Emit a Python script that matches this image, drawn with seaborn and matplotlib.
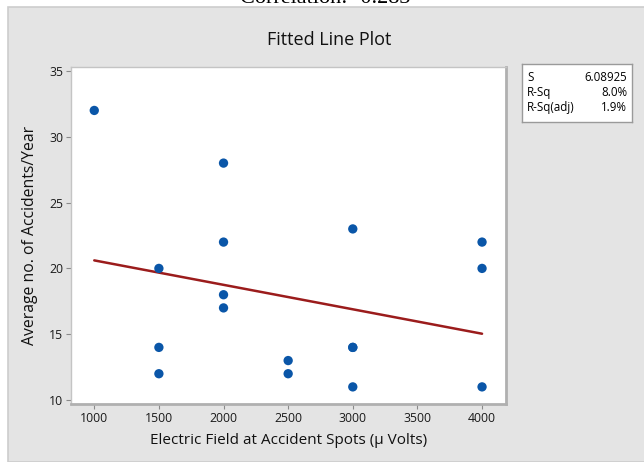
import numpy as np
import pandas as pd
import matplotlib
matplotlib.use("Agg")
import matplotlib.pyplot as plt
import seaborn as sns
from matplotlib.patches import Rectangle

# data
electric_field = [1000, 1500, 1500, 1500, 2000, 2000, 2000, 2000,
                  2500, 2500, 3000, 3000, 3000, 3000, 4000, 4000, 4000]
accidents = [32, 20, 14, 12, 28, 22, 18, 17,
             13, 12, 23, 14, 14, 11, 22, 20, 11]
stat_names = ["S", "R-Sq", "R-Sq(adj)"]
stat_values = ["6.08925", "8.0%", "1.9%"]
x_ticks = [1000, 1500, 2000, 2500, 3000, 3500, 4000]
y_ticks = [10, 15, 20, 25, 30, 35]

df = pd.DataFrame({"field": electric_field, "acc": accidents})

sns.set_theme(style="white")
plt.rcParams["font.family"] = ["Open Sans", "DejaVu Sans"]

fig = plt.figure(figsize=(6.44, 4.62), dpi=100, facecolor="white")

# grey minitab-like panel
fig.patches.append(Rectangle((8 / 644, 0), 1, 1 - 7 / 462, transform=fig.transFigure,
                             facecolor="#e4e4e4", edgecolor="#cdcdcd", lw=1.2, zorder=-10))

# caption from the page above, cut off at the top edge
fig.text(325 / 644, 1 - 3 / 462, "Correlation: -0.283", ha="center", va="baseline",
         fontsize=16, family=["Liberation Serif"], color="black")

ax = fig.add_axes([71 / 644, 1 - 404 / 462, 434.7 / 644, 337 / 462])
ax.set_facecolor("white")

sns.regplot(data=df, x="field", y="acc", ci=None, scatter=False, ax=ax,
            line_kws={"color": "#9b1c1c", "lw": 1.8, "zorder": 2})
sns.scatterplot(data=df, x="field", y="acc", ax=ax, color="#0a56a8", s=45,
                edgecolor="none", zorder=3)

ax.set_xlim(820, 4183)
ax.set_ylim(9.7, 35.3)
ax.set_xticks(x_ticks)
ax.set_yticks(y_ticks)
ax.tick_params(direction="out", length=3.5, width=0.8, color="#8a8a8a",
               labelsize=8.8, labelcolor="#1a1a1a", pad=2,
               bottom=True, left=True)
for side in ["left", "top"]:
    ax.spines[side].set_color("#c4c4c4")
    ax.spines[side].set_linewidth(1)
for side in ["right", "bottom"]:
    ax.spines[side].set_color("#b0b0b0")
    ax.spines[side].set_linewidth(2)

ax.set_xlabel("Electric Field at Accident Spots (µ Volts)", fontsize=11,
              color="#111111", labelpad=6)
ax.set_ylabel("Average no. of Accidents/Year", fontsize=11.3,
              color="#111111", labelpad=8)

fig.text(329 / 644, 1 - 45 / 462, "Fitted Line Plot", ha="center", va="baseline",
         fontsize=13, color="#111111")

# stats box
box = fig.add_axes([521.7 / 644, 1 - 121.7 / 462, 110 / 644, 57.7 / 462])
box.set_facecolor("white")
box.set_xticks([])
box.set_yticks([])
for sp in box.spines.values():
    sp.set_color("#9a9a9a")
    sp.set_linewidth(1)
for i, (nm, val) in enumerate(zip(stat_names, stat_values)):
    yy = 0.76 - i * 0.26
    box.text(0.05, yy, nm, transform=box.transAxes, ha="left", va="center",
             fontsize=8.3, color="black")
    box.text(0.96, yy, val, transform=box.transAxes, ha="right", va="center",
             fontsize=8.3, color="black")

plt.savefig("out.png", dpi=100, facecolor="white")
